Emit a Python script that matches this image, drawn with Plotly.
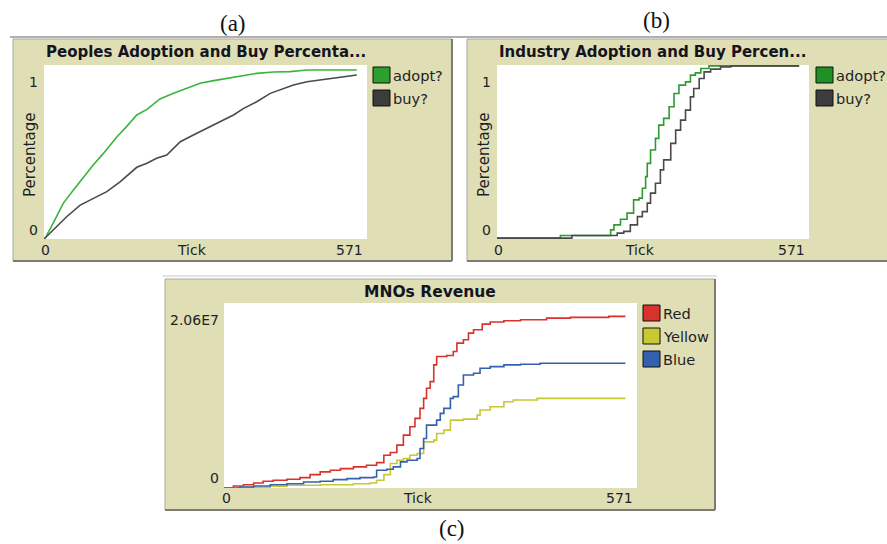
import plotly.graph_objects as go

W, H = 887, 544

# ---------------- DATA ----------------
TICK_MAX = 571

# (a) People adoption / buy percentage
people_adopt_tick = [0, 2, 16, 34, 52, 70, 87, 105, 129, 146, 164, 182, 188, 205, 229, 252, 276, 300, 323, 347, 376, 406, 435, 465, 494, 553]
people_adopt_val = [0, 0.004, 0.090, 0.205, 0.282, 0.358, 0.425, 0.492, 0.588, 0.646, 0.713, 0.745, 0.762, 0.805, 0.837, 0.866, 0.895, 0.910, 0.923, 0.937, 0.952, 0.960, 0.962, 0.971, 0.971, 0.971]
people_buy_tick = [0, 22, 40, 64, 87, 111, 135, 152, 164, 182, 199, 217, 229, 241, 264, 288, 311, 335, 353, 376, 400, 418, 441, 465, 494, 524, 553]
people_buy_val = [0, 0.071, 0.128, 0.195, 0.234, 0.272, 0.330, 0.377, 0.412, 0.435, 0.464, 0.483, 0.521, 0.559, 0.598, 0.636, 0.674, 0.713, 0.751, 0.789, 0.837, 0.857, 0.885, 0.904, 0.918, 0.933, 0.943]

# (b) Industry adoption / buy percentage
industry_adopt_tick = [0, 116, 205, 208, 214, 226, 238, 250, 260, 266, 272, 275, 281, 290, 296, 305, 315, 324, 333, 345, 354, 363, 373, 388, 553]
industry_adopt_val = [0, 0.015, 0.015, 0.048, 0.077, 0.110, 0.145, 0.222, 0.232, 0.290, 0.357, 0.434, 0.512, 0.579, 0.656, 0.695, 0.763, 0.840, 0.888, 0.907, 0.946, 0.959, 0.985, 1.0, 1.0]
industry_buy_tick = [0, 137, 220, 232, 244, 257, 266, 275, 281, 290, 299, 305, 318, 327, 336, 345, 354, 360, 370, 379, 391, 409, 428, 553]
industry_buy_val = [0, 0.015, 0.029, 0.039, 0.077, 0.125, 0.154, 0.203, 0.261, 0.319, 0.396, 0.454, 0.550, 0.627, 0.685, 0.743, 0.820, 0.869, 0.927, 0.965, 0.981, 0.994, 1.0, 1.0]

# (c) MNOs revenue
REV_MAX = 2.06e7
red_tick = [0, 13, 27, 41, 54, 68, 87, 105, 119, 133, 147, 161, 179, 197, 211, 221, 230, 239, 248, 257, 264, 271, 276, 280, 285, 290, 294, 308, 317, 322, 331, 338, 345, 357, 368, 387, 410, 446, 479, 532, 555]
red_rev = [0, 0.22e6, 0.37e6, 0.56e6, 0.75e6, 0.86e6, 0.97e6, 1.16e6, 1.49e6, 1.79e6, 1.97e6, 2.16e6, 2.35e6, 2.53e6, 2.83e6, 3.65e6, 3.95e6, 4.77e6, 5.89e6, 6.82e6, 7.75e6, 8.87e6, 9.98e6, 11.10e6, 11.85e6, 13.71e6, 14.64e6, 14.75e6, 15.20e6, 16.13e6, 16.50e6, 17.25e6, 17.62e6, 18.25e6, 18.48e6, 18.63e6, 18.74e6, 18.92e6, 19.00e6, 19.11e6, 19.11e6]
yellow_tick = [0, 22, 64, 87, 133, 179, 202, 211, 221, 230, 239, 248, 257, 267, 276, 290, 294, 304, 313, 331, 350, 354, 368, 387, 400, 433, 555]
yellow_rev = [0, 0.07e6, 0.19e6, 0.30e6, 0.37e6, 0.48e6, 0.56e6, 0.86e6, 1.49e6, 2.72e6, 3.09e6, 3.28e6, 3.65e6, 3.84e6, 5.14e6, 5.33e6, 6.07e6, 6.44e6, 7.56e6, 7.67e6, 8.12e6, 8.68e6, 9.05e6, 9.61e6, 9.80e6, 9.98e6, 9.98e6]
blue_tick = [0, 22, 41, 64, 87, 110, 133, 151, 170, 188, 207, 211, 225, 234, 244, 253, 267, 271, 276, 280, 294, 299, 304, 313, 317, 324, 331, 345, 354, 368, 387, 410, 437, 555]
blue_rev = [0, 0.11e6, 0.22e6, 0.37e6, 0.48e6, 0.67e6, 0.75e6, 0.93e6, 1.04e6, 1.16e6, 1.23e6, 1.97e6, 2.09e6, 2.35e6, 2.91e6, 3.09e6, 3.28e6, 4.40e6, 5.51e6, 7.00e6, 7.56e6, 8.31e6, 8.87e6, 9.98e6, 10.17e6, 11.47e6, 12.59e6, 12.78e6, 13.34e6, 13.52e6, 13.71e6, 13.78e6, 13.89e6, 13.89e6]

titles = ["Peoples Adoption and Buy Percenta...", "Industry Adoption and Buy Percen...", "MNOs Revenue"]
panel_letters = ["(a)", "(b)", "(c)"]
pct_names = ["adopt?", "buy?"]
mno_names = ["Red", "Yellow", "Blue"]
y_max_labels = ["1", "1", "2.06E7"]
x_title = "Tick"
y_title = "Percentage"

# ---------------- STYLE ----------------
GREEN = "#3cb43c"
GREEN_B = "#2f9a32"
GREY = "#4a4a4a"
RED = "#d7322c"
YELLOW = "#c8c832"
BLUE = "#3460b0"
PANEL = "#dfdeb4"
TXT = "#1e1e28"
FONT = "DejaVu Sans"


def fx(px):
    return px / W


def fy(py):
    return 1 - py / H


fig = go.Figure()

# panel (a)
fig.add_trace(go.Scatter(x=people_adopt_tick, y=people_adopt_val, mode="lines",
                         line=dict(color=GREEN, width=1.6), xaxis="x", yaxis="y", name=pct_names[0]))
fig.add_trace(go.Scatter(x=people_buy_tick, y=people_buy_val, mode="lines",
                         line=dict(color=GREY, width=1.6), xaxis="x", yaxis="y", name=pct_names[1]))
# panel (b)
fig.add_trace(go.Scatter(x=industry_adopt_tick, y=industry_adopt_val, mode="lines",
                         line=dict(color=GREEN_B, width=1.6, shape="hv"), xaxis="x2", yaxis="y2", name=pct_names[0]))
fig.add_trace(go.Scatter(x=industry_buy_tick, y=industry_buy_val, mode="lines",
                         line=dict(color=GREY, width=1.6, shape="hv"), xaxis="x2", yaxis="y2", name=pct_names[1]))
# panel (c)
fig.add_trace(go.Scatter(x=red_tick, y=red_rev, mode="lines",
                         line=dict(color=RED, width=1.6, shape="hv"), xaxis="x3", yaxis="y3", name=mno_names[0]))
fig.add_trace(go.Scatter(x=yellow_tick, y=yellow_rev, mode="lines",
                         line=dict(color=YELLOW, width=1.6, shape="hv"), xaxis="x3", yaxis="y3", name=mno_names[1]))
fig.add_trace(go.Scatter(x=blue_tick, y=blue_rev, mode="lines",
                         line=dict(color=BLUE, width=1.6, shape="hv"), xaxis="x3", yaxis="y3", name=mno_names[2]))

# plot-area geometry (pixels)
plots = [
    dict(x0=44, x1=367, y0=65, y1=239),
    dict(x0=497, x1=809, y0=65, y1=239),
    dict(x0=224, x1=637, y0=303, y1=488),
]
panels = [
    dict(x0=13, x1=452, y0=39, y1=261),
    dict(x0=467, x1=900, y0=39, y1=261),
    dict(x0=165, x1=715, y0=279, y1=510),
]
yranges = [[0, 1], [-0.005, 1.005], [0, REV_MAX]]

axis_common = dict(showgrid=False, zeroline=False, showticklabels=False, ticks="",
                   showline=False, fixedrange=True)
layout_axes = {}
axis_ids = []
for i, p in enumerate(plots):
    sfx = "" if i == 0 else str(i + 1)
    axis_ids.append("x" + sfx)
    layout_axes["xaxis" + sfx] = dict(domain=[fx(p["x0"]), fx(p["x1"])], range=[0, TICK_MAX],
                                      anchor="y" + sfx, **axis_common)
    layout_axes["yaxis" + sfx] = dict(domain=[fy(p["y1"]), fy(p["y0"])], range=yranges[i],
                                      anchor="x" + sfx, **axis_common)

shapes = []
# outer frame lines
shapes.append(dict(type="line", xref="paper", yref="paper", x0=fx(10), x1=1, y0=fy(37), y1=fy(37),
                   line=dict(color="#b0b0b0", width=2), layer="below"))
shapes.append(dict(type="line", xref="paper", yref="paper", x0=fx(163), x1=fx(717), y0=fy(276), y1=fy(276),
                   line=dict(color="#c8c8c8", width=1), layer="below"))
for pn in panels:
    shapes.append(dict(type="rect", xref="paper", yref="paper", x0=fx(pn["x0"]), x1=fx(pn["x1"]),
                       y0=fy(pn["y1"]), y1=fy(pn["y0"]), fillcolor=PANEL,
                       line=dict(color="#a8a8a0", width=1), layer="below"))
    # bevel shadow (bottom / right)
    shapes.append(dict(type="line", xref="paper", yref="paper", x0=fx(pn["x0"]), x1=fx(pn["x1"]),
                       y0=fy(pn["y1"]), y1=fy(pn["y1"]), line=dict(color="#7c7c74", width=2), layer="below"))
    shapes.append(dict(type="line", xref="paper", yref="paper", x0=fx(pn["x1"]), x1=fx(pn["x1"]),
                       y0=fy(pn["y1"]), y1=fy(pn["y0"]), line=dict(color="#7c7c74", width=2), layer="below"))
for p in plots:
    shapes.append(dict(type="rect", xref="paper", yref="paper", x0=fx(p["x0"]), x1=fx(p["x1"]),
                       y0=fy(p["y1"]), y1=fy(p["y0"]), fillcolor="white",
                       line=dict(width=0), layer="below"))

annotations = []


def text(x, y, s, size=14, bold=False, xanchor="center", yanchor="middle", family=FONT, color=TXT,
         xref="paper", angle=0):
    annotations.append(dict(x=x, y=y, xref=xref, yref="paper", text=("<b>%s</b>" % s) if bold else s,
                            showarrow=False, xanchor=xanchor, yanchor=yanchor, textangle=angle,
                            font=dict(family=family, size=size, color=color)))


# panel letters
text(fx(233), fy(24), panel_letters[0], size=23, family="Liberation Serif", color="#111")
text(fx(656), fy(21), panel_letters[1], size=23, family="Liberation Serif", color="#111")
text(fx(452), fy(528), panel_letters[2], size=23, family="Liberation Serif", color="#111")

# titles
title_pos = [(206, 52), (652, 52), (430, 292)]
title_size = [15, 15, 15.5]
for t, (tx, ty), ts in zip(titles, title_pos, title_size):
    text(fx(tx), fy(ty), t, size=ts, bold=True, color="#14141e")

# x-axis labels (tick extremes placed on the axis scale)
xlab_y = [250, 250, 498]
xtitle_x = [192, 640, 418]
for xr, ly, tx in zip(axis_ids, xlab_y, xtitle_x):
    text(3, fy(ly), "0", xref=xr)
    text(TICK_MAX - 3, fy(ly), str(TICK_MAX), xanchor="right", xref=xr)
    text(fx(tx), fy(ly), x_title)

# y-axis labels
ylab = [(40, 82, 230, y_max_labels[0]), (493, 82, 230, y_max_labels[1]), (221, 320, 478, y_max_labels[2])]
for (rx, ytop, ybot, lab) in ylab:
    text(fx(rx), fy(ytop), lab, xanchor="right")
    text(fx(rx), fy(ybot), "0", xanchor="right")
text(fx(30), fy(155), y_title, size=15, angle=-90)
text(fx(484), fy(155), y_title, size=15, angle=-90)

# legends
legends = [
    (373, 67, pct_names, ["#2ca02c", "#3c3c3c"]),
    (816, 67, pct_names, ["#1f8f26", "#3c3c3c"]),
    (643, 305, mno_names, [RED, YELLOW, BLUE]),
]
for (lx, ly, names, cols) in legends:
    for k, (nm, c) in enumerate(zip(names, cols)):
        top = ly + k * 23
        shapes.append(dict(type="rect", xref="paper", yref="paper", x0=fx(lx), x1=fx(lx + 17),
                           y0=fy(top + 16), y1=fy(top), fillcolor=c, line=dict(color="#111", width=1)))
        text(fx(lx + 18), fy(top + 8), nm, size=14.6, xanchor="left")

fig.update_layout(width=W, height=H, margin=dict(l=0, r=0, t=0, b=0),
                  paper_bgcolor="white", plot_bgcolor="rgba(0,0,0,0)", showlegend=False,
                  shapes=shapes, annotations=annotations, **layout_axes)

fig.write_html("out.html")
